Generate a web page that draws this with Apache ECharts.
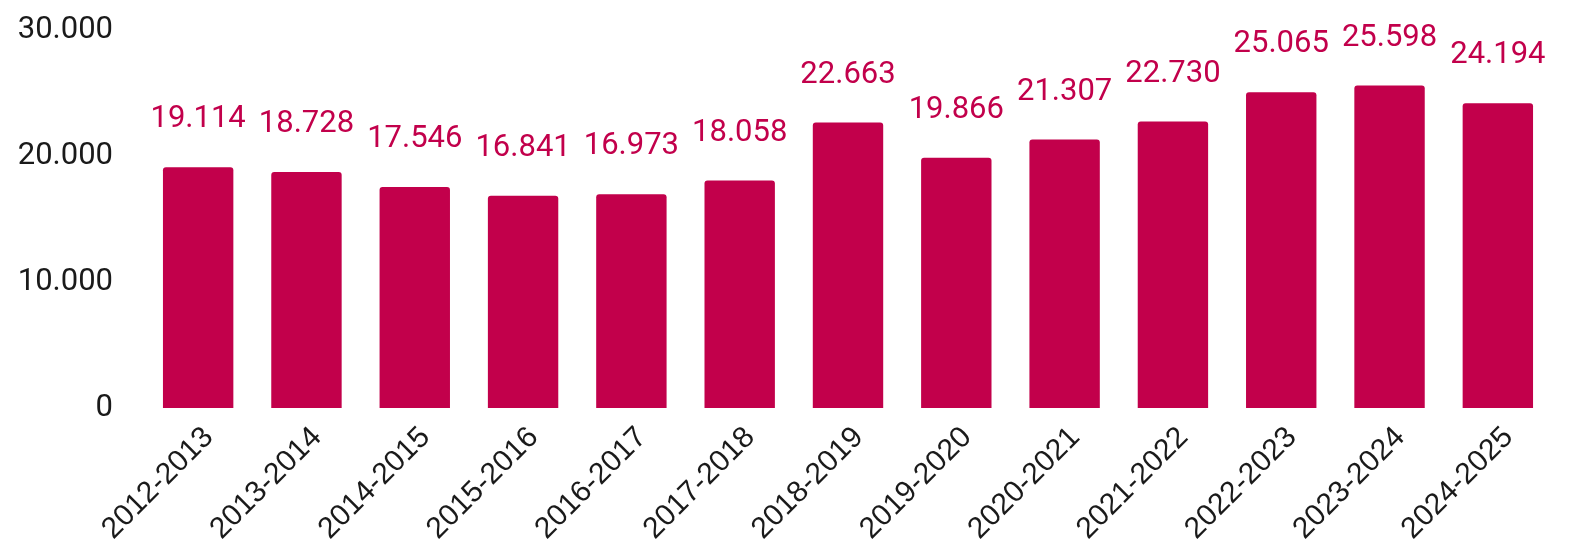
<!DOCTYPE html>
<html><head><meta charset="utf-8">
<script src="https://cdn.jsdelivr.net/npm/echarts@6/dist/echarts.min.js"></script>
<style>html,body{margin:0;padding:0;background:#fff}#c{width:1571px;height:552px}</style>
</head><body><div id="c"></div>
<script>
const categories = ['2012-2013','2013-2014','2014-2015','2015-2016','2016-2017','2017-2018','2018-2019','2019-2020','2020-2021','2021-2022','2022-2023','2023-2024','2024-2025'];
const values = [19114,18728,17546,16841,16973,18058,22663,19866,21307,22730,25065,25598,24194];
const yTicks = [0,10000,20000,30000];
const fmt = v => String(v).replace(/\B(?=(\d{3})+(?!\d))/g,'.');
const chart = echarts.init(document.getElementById('c'));
chart.setOption({
  animation:false,
  grid:{left:144,right:19,top:30,bottom:144},
  xAxis:{type:'category',data:categories,
    axisLine:{show:false},axisTick:{show:false},
    axisLabel:{rotate:45,margin:14,fontSize:30,color:'#1a1a1a',fontFamily:'Liberation Sans',interval:0,verticalAlign:'top'}},
  yAxis:{type:'value',min:yTicks[0],max:yTicks[yTicks.length-1],interval:10000,
    splitLine:{show:false},axisLine:{show:false},axisTick:{show:false},
    axisLabel:{fontSize:31,color:'#1a1a1a',fontFamily:'Roboto',margin:31,formatter:fmt}},
  series:[{type:'bar',data:values,barWidth:'65%',
    itemStyle:{color:'#C2004B',borderRadius:[3,3,0,0]},
    label:{show:true,position:'top',distance:32,fontSize:31,color:'#C2004B',fontFamily:'Roboto',formatter:p=>fmt(p.value)}}]
});
</script></body></html>
